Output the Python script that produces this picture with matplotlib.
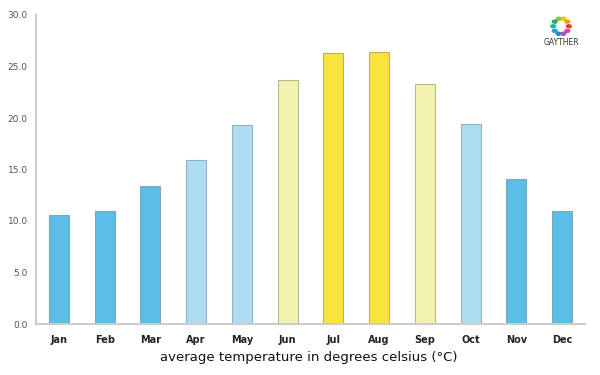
import matplotlib
matplotlib.use("Agg")
import matplotlib.pyplot as plt
import numpy as np

months = ["Jan", "Feb", "Mar", "Apr", "May", "Jun", "Jul", "Aug", "Sep", "Oct", "Nov", "Dec"]
temps = [10.6, 11.0, 13.4, 15.9, 19.3, 23.7, 26.3, 26.4, 23.3, 19.4, 14.1, 11.0]
colors = ["#5BBEE6", "#5BBEE6", "#5BBEE6", "#AEDDF1", "#AEDDF1", "#F3F3AE",
          "#F9E43F", "#F9E43F", "#F3F3AE", "#AEDDF1", "#5BBEE6", "#5BBEE6"]
edges = ["#7FA6B5", "#7FA6B5", "#7FA6B5", "#8FB3C2", "#8FB3C2", "#B8B890",
         "#C0B060", "#C0B060", "#B8B890", "#8FB3C2", "#7FA6B5", "#7FA6B5"]
yticks = [0, 5, 10, 15, 20, 25, 30]
xlabel = "average temperature in degrees celsius (°C)"

fig = plt.figure(figsize=(6, 3.75), dpi=100)
ax = fig.add_axes([0.06, 0.136, 0.915, 0.824])
x = np.arange(len(months))
ax.bar(x, temps, width=0.44, color=colors, edgecolor=edges, linewidth=0.8, zorder=2)
ax.set_xlim(-0.5, 11.5)
ax.set_ylim(0, 30)
ax.set_yticks(yticks)
ax.set_yticklabels([f"{v:.1f}" for v in yticks], fontsize=6.5, color="#555555")
ax.set_xticks(x)
ax.set_xticklabels(months, fontsize=7, color="#222222", fontweight="semibold")
ax.tick_params(axis="both", length=0)
ax.tick_params(axis="x", pad=8)
ax.tick_params(axis="y", pad=6)
for s in ["top", "right"]:
    ax.spines[s].set_visible(False)
for s in ["left", "bottom"]:
    ax.spines[s].set_color("#cccccc")
    ax.spines[s].set_linewidth(1.5)
fig.text(0.515, 0.048, xlabel, ha="center", va="center", fontsize=9.5, color="#111111")

# logo
fig.text(0.935, 0.887, "GAYTHER", ha="center", va="center", fontsize=5.5, color="#333333")
logo_cols = ["#E63B2E", "#F39C12", "#F1C40F", "#8DC63F", "#27AE60", "#1ABC9C",
             "#3498DB", "#2E86C1", "#9B59B6", "#E84393"]
ang = np.linspace(0, 2 * np.pi, len(logo_cols), endpoint=False)
lx = 0.935 + 0.013 * np.cos(ang)
ly = 0.93 + 0.021 * np.sin(ang)
for xx, yy, c in zip(lx, ly, logo_cols):
    fig.patches.append(plt.Circle((xx, yy), 0.004, transform=fig.transFigure, color=c, figure=fig))

fig.savefig("out.png", dpi=100)
